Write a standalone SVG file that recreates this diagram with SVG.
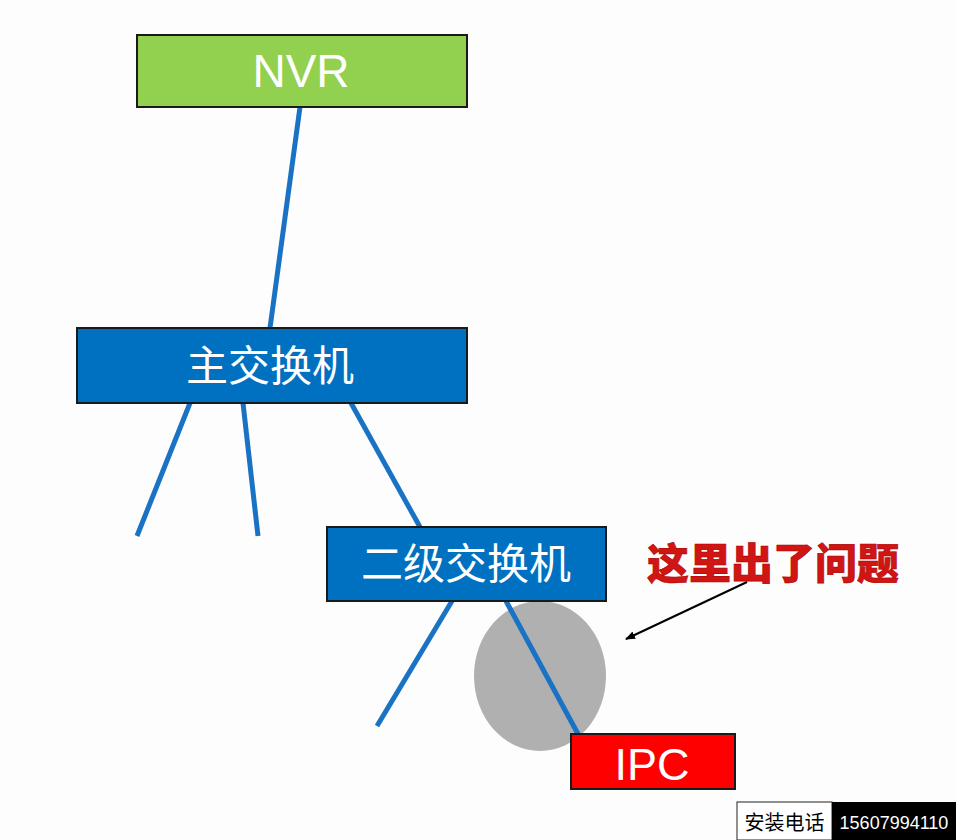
<svg xmlns="http://www.w3.org/2000/svg" width="956" height="840" viewBox="0 0 956 840">
<style>
.box{stroke:#1a1a1a;stroke-width:2}
.lbl{font-family:"Liberation Sans","Noto Sans CJK SC",sans-serif;fill:#ffffff;text-anchor:middle}
.cjk{font-family:"Noto Sans CJK SC",sans-serif;text-anchor:middle}
.wire{stroke:#1a72c4;stroke-width:5;stroke-linecap:butt;fill:none}
</style>
<defs>
<marker id="ah" markerWidth="10" markerHeight="8" refX="9" refY="4" orient="auto" markerUnits="userSpaceOnUse" viewBox="0 0 10 8">
<path d="M0,0 L10,4 L0,8 z" fill="#000"/>
</marker>
</defs>
<rect width="956" height="840" fill="#fdfdfe"/>
<ellipse id="fault-area" cx="540" cy="676" rx="66" ry="75" fill="#b0b0b0"/>
<g id="connectors">
<line class="wire" x1="300" y1="107" x2="270" y2="328"/>
<line class="wire" x1="190" y1="403" x2="137" y2="536"/>
<line class="wire" x1="243" y1="403" x2="258" y2="536"/>
<line class="wire" x1="351" y1="403" x2="420" y2="527"/>
<line class="wire" x1="452" y1="601" x2="377" y2="726"/>
<line class="wire" x1="506" y1="601" x2="578" y2="734"/>
<line x1="747" y1="582" x2="626" y2="639" stroke="#000" stroke-width="2" marker-end="url(#ah)"/>
</g>
<g id="nvr">
<rect class="box" x="137" y="35" width="330" height="72" fill="#92d050"/>
<text class="lbl" x="301" y="87" font-size="46">NVR</text>
</g>
<g id="main-switch">
<rect class="box" x="77" y="328" width="390" height="75" fill="#0070c0"/>
<text class="cjk" x="270" y="381" font-size="42" fill="#fff">主交换机</text>
</g>
<g id="second-switch">
<rect class="box" x="327" y="527" width="279" height="74" fill="#0070c0"/>
<text class="cjk" x="466" y="579" font-size="42" fill="#fff">二级交换机</text>
</g>
<g id="ipc">
<rect class="box" x="571" y="734" width="164" height="55" fill="#ff0000"/>
<text class="lbl" x="652" y="780" font-size="45">IPC</text>
</g>
<g id="note">
<text class="cjk" x="773" y="579" font-size="42" font-weight="900" fill="#d01515" stroke="#b00000" stroke-width="0.600">这里出了问题</text>
</g>
<g id="contact">
<rect x="737" y="802" width="95" height="38" fill="#ffffff" stroke="#222" stroke-width="1"/>
<rect x="832" y="802" width="124" height="38" fill="#000000"/>
<text class="cjk" x="784.500" y="830" font-size="20" fill="#000">安装电话</text>
<text class="lbl" x="894" y="829" font-size="18" font-family="Noto Sans, sans-serif">15607994110</text>
</g>
</svg>
